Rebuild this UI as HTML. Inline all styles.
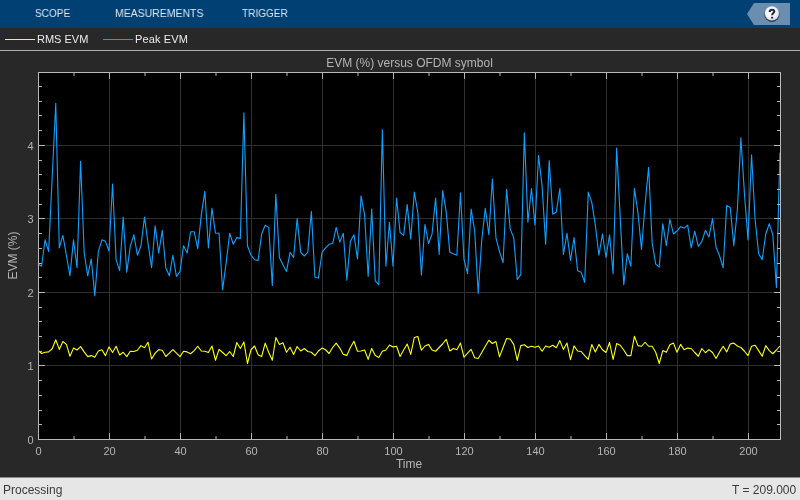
<!DOCTYPE html>
<html><head><meta charset="utf-8"><style>
html,body{margin:0;padding:0;}
body{width:800px;height:500px;overflow:hidden;background:#282828;position:relative;font-family:"Liberation Sans",sans-serif;}
.top{position:absolute;left:0;top:0;width:800px;height:28px;background:#014073;}
.tab{position:absolute;top:7px;font-size:11px;color:#dfe6ee;line-height:12px;transform-origin:0 0;}
.leg{position:absolute;left:0;top:28px;width:800px;height:22px;background:#282828;}
.sep{position:absolute;left:0;top:50px;width:800px;height:1px;background:#afafaf;}
.legtxt{position:absolute;top:33px;font-size:11px;color:#ececec;line-height:13px;}
.legline{position:absolute;top:39px;height:1px;width:30px;}
.status{position:absolute;left:0;top:477px;width:800px;height:22px;background:#e6e6e6;border-top:1px solid #8a8a8a;}
.st{position:absolute;top:483px;font-size:12px;color:#3a3a3a;line-height:14px;}
svg{position:absolute;left:0;top:0;}
.tab,.legtxt,.st,svg{will-change:transform;}
</style></head><body>
<div class="top"></div>
<div class="tab" style="left:34.9px;transform:scaleX(0.915)">SCOPE</div>
<div class="tab" style="left:114.5px;transform:scaleX(0.952)">MEASUREMENTS</div>
<div class="tab" style="left:242px;transform:scaleX(0.912)">TRIGGER</div>
<svg width="800" height="30" style="top:0">
<polygon points="747,14 754,3 790,3 790,25 754,25" fill="#6a8db0"/>
<defs><radialGradient id="hg" cx="0.42" cy="0.35" r="0.75"><stop offset="0" stop-color="#ffffff"/><stop offset="0.55" stop-color="#f2f4f6"/><stop offset="1" stop-color="#c9d0d8"/></radialGradient>
<linearGradient id="hr" x1="0" y1="0" x2="0" y2="1"><stop offset="0" stop-color="#9fb3c8"/><stop offset="0.5" stop-color="#4f6886"/><stop offset="1" stop-color="#1d3250"/></linearGradient></defs>
<circle cx="771.9" cy="13.9" r="8.0" fill="url(#hr)"/>
<circle cx="771.9" cy="13.5" r="7.0" fill="url(#hg)"/>
<path d="M769.7 12.0C769.7 10.5 770.7 9.7 772.0 9.7C773.4 9.7 774.3 10.5 774.3 11.6C774.3 12.8 772.2 13.2 772.2 14.7V15.2" stroke="#1e2b44" stroke-width="2.1" fill="none"/>
<rect x="771.1" y="16.8" width="2.0" height="1.8" fill="#1e2b44"/>
</svg>
<div class="leg"></div>
<div class="legline" style="left:5px;background:#ffff11"></div>
<div class="legtxt" style="left:37px">RMS EVM</div>
<div class="legline" style="left:103px;background:#139fff"></div>
<div class="legtxt" style="left:135.3px;letter-spacing:0.12px">Peak EVM</div>
<div class="sep"></div>
<svg width="800" height="500" style="top:0" font-family="Liberation Sans">
<rect x="38" y="72" width="743" height="368" fill="#000"/>
<g stroke="#2e2e2e" stroke-width="1" shape-rendering="crispEdges"><line x1="109.5" y1="72.5" x2="109.5" y2="439.5"/><line x1="180.5" y1="72.5" x2="180.5" y2="439.5"/><line x1="251.5" y1="72.5" x2="251.5" y2="439.5"/><line x1="322.5" y1="72.5" x2="322.5" y2="439.5"/><line x1="393.5" y1="72.5" x2="393.5" y2="439.5"/><line x1="464.5" y1="72.5" x2="464.5" y2="439.5"/><line x1="535.5" y1="72.5" x2="535.5" y2="439.5"/><line x1="606.5" y1="72.5" x2="606.5" y2="439.5"/><line x1="677.5" y1="72.5" x2="677.5" y2="439.5"/><line x1="748.5" y1="72.5" x2="748.5" y2="439.5"/><line x1="38.5" y1="365.5" x2="780.5" y2="365.5"/><line x1="38.5" y1="292.5" x2="780.5" y2="292.5"/><line x1="38.5" y1="218.5" x2="780.5" y2="218.5"/><line x1="38.5" y1="145.5" x2="780.5" y2="145.5"/></g>
<polyline points="38.00,350.25 41.55,353.50 45.10,352.25 48.65,351.90 52.20,348.75 55.75,339.75 59.30,349.40 62.85,341.50 66.40,344.40 69.95,356.25 73.50,348.10 77.05,350.00 80.60,346.60 84.15,351.90 87.70,356.60 91.25,355.60 94.80,357.25 98.35,351.00 101.90,349.75 105.45,355.60 109.00,346.90 112.55,352.50 116.10,346.25 119.65,355.00 123.20,352.25 126.75,356.60 130.30,351.25 133.85,351.50 137.40,350.25 140.95,345.60 144.50,347.75 148.05,342.25 151.60,359.00 155.15,353.10 158.70,349.75 162.25,350.25 165.80,356.50 169.35,353.10 172.90,349.60 176.45,353.10 180.00,356.60 183.55,351.25 187.10,351.90 190.65,353.75 194.20,350.60 197.75,346.25 201.30,351.00 204.85,351.25 208.40,352.50 211.95,346.00 215.50,360.25 219.05,349.40 222.60,352.50 226.15,355.60 229.70,351.50 233.25,356.50 236.80,342.50 240.35,348.50 243.90,341.90 247.45,363.50 251.00,349.75 254.55,346.00 258.10,354.75 261.65,356.50 265.20,343.10 268.75,352.50 272.30,360.25 275.85,337.50 279.40,344.40 282.95,342.75 286.50,352.25 290.05,347.25 293.60,354.40 297.15,346.50 300.70,351.00 304.25,348.50 307.80,351.50 311.35,352.25 314.90,355.60 318.45,351.00 322.00,348.10 325.55,349.75 329.10,353.50 332.65,347.50 336.20,343.10 339.75,348.10 343.30,354.40 346.85,355.40 350.40,347.50 353.95,341.25 357.50,351.25 361.05,351.00 364.60,350.00 368.15,359.40 371.70,348.50 375.25,355.60 378.80,357.50 382.35,351.25 385.90,350.00 389.45,345.00 393.00,346.90 396.55,346.25 400.10,356.50 403.65,350.00 407.20,344.00 410.75,354.40 414.30,337.50 417.85,336.50 421.40,350.25 424.95,346.00 428.50,344.40 432.05,350.00 435.60,351.25 439.15,347.50 442.70,343.75 446.25,339.40 449.80,351.00 453.35,348.50 456.90,349.75 460.45,343.10 464.00,357.25 467.55,353.10 471.10,349.40 474.65,357.75 478.20,358.50 481.75,352.50 485.30,346.25 488.85,340.25 492.40,343.50 495.95,341.50 499.50,356.90 503.05,347.50 506.60,338.50 510.15,339.00 513.70,344.40 517.25,360.40 520.80,345.60 524.35,344.75 527.90,347.50 531.45,346.25 535.00,347.25 538.55,346.00 542.10,351.25 545.65,346.00 549.20,347.25 552.75,345.25 556.30,347.75 559.85,340.60 563.40,349.40 566.95,343.10 570.50,359.60 574.05,345.90 577.60,351.00 581.15,351.50 584.70,355.60 588.25,359.40 591.80,344.60 595.35,351.90 598.90,344.40 602.45,349.75 606.00,352.50 609.55,342.50 613.10,359.40 616.65,343.50 620.20,345.25 623.75,350.00 627.30,355.60 630.85,355.60 634.40,336.25 637.95,345.60 641.50,346.25 645.05,342.25 648.60,346.25 652.15,346.25 655.70,352.25 659.25,363.50 662.80,350.60 666.35,352.25 669.90,344.75 673.45,343.10 677.00,352.25 680.55,344.40 684.10,349.75 687.65,348.10 691.20,348.50 694.75,352.50 698.30,356.25 701.85,348.50 705.40,352.75 708.95,349.60 712.50,352.50 716.05,358.50 719.60,351.90 723.15,346.25 726.70,351.90 730.25,344.00 733.80,343.10 737.35,346.00 740.90,347.50 744.45,351.25 748.00,355.60 751.55,346.25 755.10,345.25 758.65,350.60 762.20,356.25 765.75,345.60 769.30,350.60 772.85,353.75 776.40,350.00 779.95,346.00" fill="none" stroke="#ffff11" stroke-width="1.1" stroke-linejoin="round"/>
<polyline points="38.00,264.07 41.55,266.28 45.10,239.85 48.65,251.60 52.20,177.46 55.75,103.33 59.30,247.93 62.85,235.45 66.40,255.27 69.95,275.82 73.50,239.85 77.05,267.74 80.60,161.31 84.15,252.33 87.70,275.82 91.25,258.94 94.80,295.64 98.35,251.60 101.90,239.85 105.45,241.32 109.00,250.86 112.55,184.07 116.10,259.67 119.65,270.68 123.20,217.10 126.75,272.15 130.30,246.46 133.85,234.71 137.40,255.27 140.95,245.72 144.50,217.10 148.05,243.52 151.60,267.74 155.15,225.91 158.70,253.06 162.25,230.31 165.80,267.74 169.35,275.82 172.90,255.27 176.45,276.55 180.00,271.41 183.55,245.72 187.10,253.06 190.65,231.78 194.20,231.78 197.75,248.66 201.30,214.90 204.85,191.41 208.40,247.93 211.95,208.29 215.50,233.25 219.05,233.25 222.60,289.76 226.15,262.61 229.70,233.25 233.25,244.26 236.80,237.65 240.35,238.38 243.90,112.87 247.45,245.72 251.00,255.27 254.55,259.67 258.10,260.40 261.65,233.98 265.20,225.17 268.75,227.37 272.30,285.36 275.85,194.34 279.40,257.47 282.95,264.81 286.50,271.41 290.05,252.33 293.60,257.47 297.15,218.57 300.70,252.33 304.25,256.00 307.80,252.33 311.35,211.23 314.90,277.29 318.45,278.02 322.00,252.33 325.55,247.93 329.10,244.26 332.65,243.52 336.20,227.37 339.75,242.05 343.30,233.25 346.85,280.22 350.40,241.32 353.95,234.71 357.50,258.94 361.05,195.81 364.60,214.90 368.15,276.55 371.70,209.02 375.25,280.96 378.80,284.63 382.35,129.75 385.90,266.28 389.45,222.24 393.00,266.28 396.55,198.01 400.10,232.51 403.65,235.45 407.20,204.62 410.75,239.12 414.30,192.14 417.85,212.69 421.40,275.08 424.95,224.44 428.50,243.52 432.05,233.98 435.60,198.01 439.15,254.53 442.70,190.67 446.25,211.96 449.80,252.33 453.35,253.80 456.90,255.27 460.45,192.88 464.00,259.67 467.55,273.62 471.10,209.02 474.65,230.31 478.20,293.43 481.75,239.85 485.30,208.29 488.85,234.71 492.40,178.93 495.95,237.65 499.50,251.60 503.05,262.61 506.60,189.21 510.15,228.84 513.70,237.65 517.25,279.49 520.80,274.35 524.35,132.69 527.90,222.24 531.45,188.47 535.00,225.17 538.55,155.44 542.10,186.27 545.65,244.26 549.20,160.58 552.75,214.16 556.30,211.96 559.85,188.47 563.40,254.53 566.95,233.25 570.50,260.40 574.05,237.65 577.60,270.68 581.15,272.15 584.70,282.42 588.25,192.14 591.80,202.42 595.35,225.17 598.90,255.27 602.45,233.98 606.00,257.47 609.55,234.71 613.10,273.62 616.65,148.10 620.20,217.10 623.75,284.63 627.30,253.80 630.85,266.28 634.40,188.47 637.95,212.69 641.50,249.39 645.05,204.62 648.60,167.19 652.15,242.79 655.70,264.07 659.25,267.01 662.80,223.70 666.35,245.72 669.90,219.30 673.45,233.98 677.00,231.04 680.55,226.64 684.10,228.11 687.65,225.17 691.20,247.93 694.75,231.04 698.30,246.46 701.85,241.32 705.40,230.31 708.95,236.92 712.50,218.57 716.05,247.19 719.60,256.00 723.15,267.74 726.70,205.35 730.25,207.56 733.80,245.72 737.35,209.76 740.90,137.83 744.45,193.61 748.00,239.85 751.55,154.71 755.10,219.30 758.65,253.80 762.20,259.67 765.75,233.98 769.30,223.70 772.85,234.71 776.40,287.56 779.95,152.51" fill="none" stroke="#139fff" stroke-width="1.1" stroke-linejoin="round"/>
<g fill="none" stroke="#b9b9b9" stroke-width="1">
<rect x="38.5" y="72.5" width="742" height="367" shape-rendering="crispEdges"/>
<path d="M38.5 439.5v-6.4M38.5 72.5v6.4M109.5 439.5v-6.4M109.5 72.5v6.4M180.5 439.5v-6.4M180.5 72.5v6.4M251.5 439.5v-6.4M251.5 72.5v6.4M322.5 439.5v-6.4M322.5 72.5v6.4M393.5 439.5v-6.4M393.5 72.5v6.4M464.5 439.5v-6.4M464.5 72.5v6.4M535.5 439.5v-6.4M535.5 72.5v6.4M606.5 439.5v-6.4M606.5 72.5v6.4M677.5 439.5v-6.4M677.5 72.5v6.4M748.5 439.5v-6.4M748.5 72.5v6.4M74.0 439.5v-3.4M74.0 72.5v3.4M145.0 439.5v-3.4M145.0 72.5v3.4M216.0 439.5v-3.4M216.0 72.5v3.4M287.0 439.5v-3.4M287.0 72.5v3.4M358.0 439.5v-3.4M358.0 72.5v3.4M429.0 439.5v-3.4M429.0 72.5v3.4M500.0 439.5v-3.4M500.0 72.5v3.4M571.0 439.5v-3.4M571.0 72.5v3.4M642.0 439.5v-3.4M642.0 72.5v3.4M713.0 439.5v-3.4M713.0 72.5v3.4M38.5 439.5h6.4M780.5 439.5h-6.4M38.5 424.5h3.4M780.5 424.5h-3.4M38.5 410.5h3.4M780.5 410.5h-3.4M38.5 395.5h3.4M780.5 395.5h-3.4M38.5 380.5h3.4M780.5 380.5h-3.4M38.5 365.5h6.4M780.5 365.5h-6.4M38.5 351.5h3.4M780.5 351.5h-3.4M38.5 336.5h3.4M780.5 336.5h-3.4M38.5 321.5h3.4M780.5 321.5h-3.4M38.5 307.5h3.4M780.5 307.5h-3.4M38.5 292.5h6.4M780.5 292.5h-6.4M38.5 277.5h3.4M780.5 277.5h-3.4M38.5 263.5h3.4M780.5 263.5h-3.4M38.5 248.5h3.4M780.5 248.5h-3.4M38.5 233.5h3.4M780.5 233.5h-3.4M38.5 218.5h6.4M780.5 218.5h-6.4M38.5 204.5h3.4M780.5 204.5h-3.4M38.5 189.5h3.4M780.5 189.5h-3.4M38.5 174.5h3.4M780.5 174.5h-3.4M38.5 160.5h3.4M780.5 160.5h-3.4M38.5 145.5h6.4M780.5 145.5h-6.4M38.5 130.5h3.4M780.5 130.5h-3.4M38.5 115.5h3.4M780.5 115.5h-3.4M38.5 101.5h3.4M780.5 101.5h-3.4M38.5 86.5h3.4M780.5 86.5h-3.4M38.5 72.5h6.4M780.5 72.5h-6.4"/>
</g>
<g font-size="11" fill="#b5b5b5"><text x="38.5" y="455" text-anchor="middle">0</text><text x="109.5" y="455" text-anchor="middle">20</text><text x="180.5" y="455" text-anchor="middle">40</text><text x="251.5" y="455" text-anchor="middle">60</text><text x="322.5" y="455" text-anchor="middle">80</text><text x="393.5" y="455" text-anchor="middle">100</text><text x="464.5" y="455" text-anchor="middle">120</text><text x="535.5" y="455" text-anchor="middle">140</text><text x="606.5" y="455" text-anchor="middle">160</text><text x="677.5" y="455" text-anchor="middle">180</text><text x="748.5" y="455" text-anchor="middle">200</text><text x="33.5" y="443.5" text-anchor="end">0</text><text x="33.5" y="369.5" text-anchor="end">1</text><text x="33.5" y="296.5" text-anchor="end">2</text><text x="33.5" y="222.5" text-anchor="end">3</text><text x="33.5" y="149.5" text-anchor="end">4</text></g>
<text x="409.5" y="67" text-anchor="middle" font-size="12" fill="#b5b5b5">EVM (%) versus OFDM symbol</text>
<text x="409" y="467.5" text-anchor="middle" font-size="12" fill="#b5b5b5">Time</text>
<text transform="translate(17,255.5) rotate(-90)" text-anchor="middle" font-size="12" fill="#b5b5b5">EVM (%)</text>
</svg>
<div class="status"></div>
<div class="st" style="left:3px">Processing</div>
<div class="st" style="right:3.6px">T = 209.000</div>
</body></html>
